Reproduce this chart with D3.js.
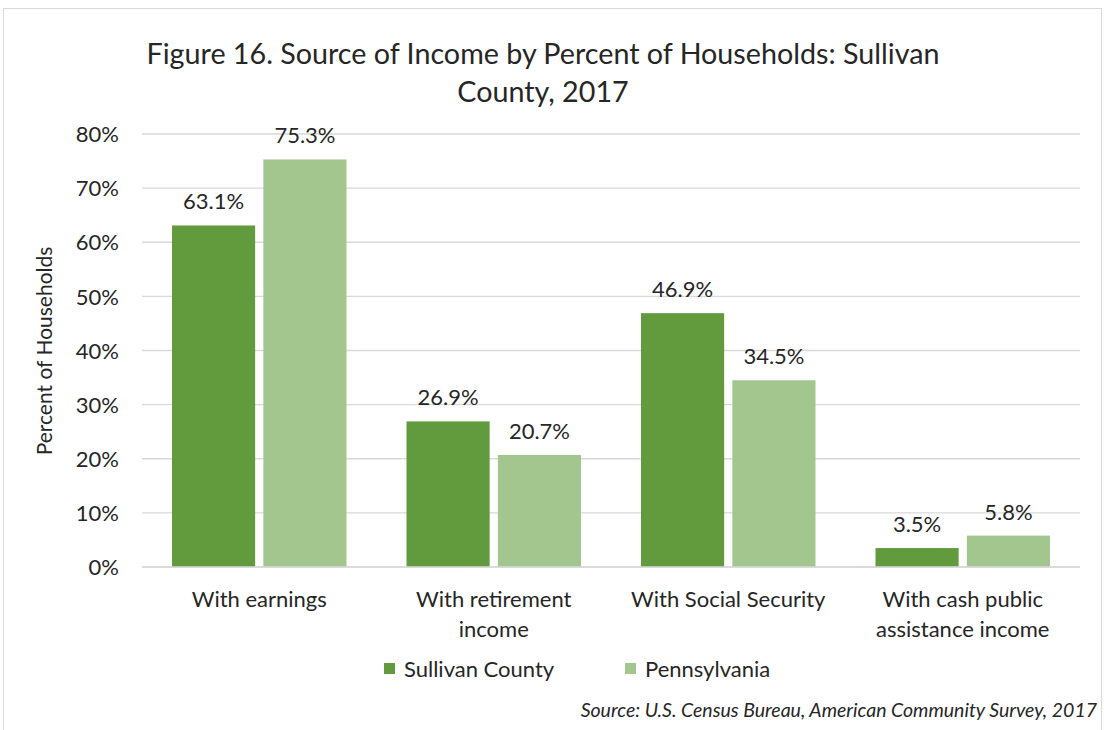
<!DOCTYPE html>
<html>
<head>
<meta charset="utf-8">
<script src="https://cdn.jsdelivr.net/npm/d3@7"></script>
<style>
  body { margin: 0; background: #fff; }
  svg text { font-family: Lato, "Open Sans", sans-serif; fill: #262626; }
</style>
</head>
<body>
<svg id="chart" width="1106" height="730"></svg>
<script>
// data
var categories = ["With earnings", "With retirement income", "With Social Security", "With cash public assistance income"];
var categoryLines = [["With earnings"], ["With retirement", "income"], ["With Social Security"], ["With cash public", "assistance income"]];
var seriesNames = ["Sullivan County", "Pennsylvania"];
var sullivan = [63.1, 26.9, 46.9, 3.5];
var pennsylvania = [75.3, 20.7, 34.5, 5.8];
var yTicks = [0, 10, 20, 30, 40, 50, 60, 70, 80];
var colors = ["#629a3e", "#a3c68f"];

var svg = d3.select("#chart");

// outer frame
svg.append("rect")
  .attr("x", 3.5).attr("y", 8.5)
  .attr("width", 1098).attr("height", 740)
  .attr("fill", "#fff").attr("stroke", "#d9d9d9").attr("stroke-width", 1);

var plotLeft = 142, plotRight = 1080, plotTop = 134, plotBottom = 567;
var fs = "22px";

var x = d3.scaleBand().domain(categories).range([plotLeft, plotRight]).paddingInner(0).paddingOuter(0);
var x1 = d3.scaleBand().domain(seriesNames).range([30, x.bandwidth() - 30]).paddingInner(0.09);
var y = d3.scaleLinear().domain([0, 80]).range([plotBottom, plotTop]);

// gridlines
svg.append("g").selectAll("line").data(yTicks).join("line")
  .attr("x1", plotLeft).attr("x2", plotRight)
  .attr("y1", d => y(d)).attr("y2", d => y(d))
  .attr("stroke", "#d9d9d9").attr("stroke-width", 1.3);

// y axis labels
var yAxis = d3.axisLeft(y).tickValues(yTicks).tickFormat(d => d + "%").tickSize(0).tickPadding(0);
var ya = svg.append("g").attr("transform", "translate(119,0)").call(yAxis);
ya.select(".domain").remove();
ya.selectAll("text").style("font-size", fs).style("font-family", "Lato, sans-serif").attr("fill", "#262626").attr("dy", "0.35em");

// axis title
svg.append("text")
  .attr("transform", "translate(52,351) rotate(-90)")
  .attr("text-anchor", "middle")
  .style("font-size", "21px")
  .text("Percent of Households");

// bars
var rows = categories.map((c, i) => ({ cat: c, vals: [sullivan[i], pennsylvania[i]] }));
var groups = svg.append("g").selectAll("g").data(rows).join("g")
  .attr("transform", d => "translate(" + x(d.cat) + ",0)");

groups.selectAll("rect").data(d => d.vals.map((v, j) => ({ s: seriesNames[j], v: v, j: j }))).join("rect")
  .attr("x", d => x1(d.s))
  .attr("width", x1.bandwidth())
  .attr("y", d => y(d.v))
  .attr("height", d => y(0) - y(d.v))
  .attr("fill", d => colors[d.j]);

groups.selectAll("text.val").data(d => d.vals.map((v, j) => ({ s: seriesNames[j], v: v }))).join("text")
  .attr("class", "val")
  .attr("x", d => x1(d.s) + x1.bandwidth() / 2)
  .attr("y", d => y(d.v) - 16)
  .attr("text-anchor", "middle")
  .style("font-size", fs)
  .text(d => d.v.toFixed(1) + "%");

// baseline
svg.append("line").attr("x1", plotLeft).attr("x2", plotRight)
  .attr("y1", y(0)).attr("y2", y(0))
  .attr("stroke", "#d9d9d9").attr("stroke-width", 1.5);

// category labels
categories.forEach(function (c, i) {
  var t = svg.append("text")
    .attr("x", x(c) + x.bandwidth() / 2)
    .attr("y", 607)
    .attr("text-anchor", "middle")
    .style("font-size", fs);
  categoryLines[i].forEach(function (ln, k) {
    t.append("tspan").attr("x", x(c) + x.bandwidth() / 2).attr("dy", k === 0 ? 0 : 30).text(ln);
  });
});

// title
var title = svg.append("text").attr("text-anchor", "middle").style("font-size", "28.7px");
title.append("tspan").attr("x", 543).attr("y", 64).text("Figure 16. Source of Income by Percent of Households: Sullivan");
title.append("tspan").attr("x", 543).attr("y", 102).text("County, 2017");

// legend
var legendX = [384, 625];
seriesNames.forEach(function (s, i) {
  svg.append("rect").attr("x", legendX[i]).attr("y", 663).attr("width", 11).attr("height", 11).attr("fill", colors[i]);
  svg.append("text").attr("x", legendX[i] + 20).attr("y", 677).style("font-size", fs).text(s);
});

// source
svg.append("text")
  .attr("x", 1097).attr("y", 717)
  .attr("text-anchor", "end")
  .style("font-size", "19.5px").style("font-style", "italic")
  .text("Source: U.S. Census Bureau, American Community Survey, 2017");
</script>
</body>
</html>
